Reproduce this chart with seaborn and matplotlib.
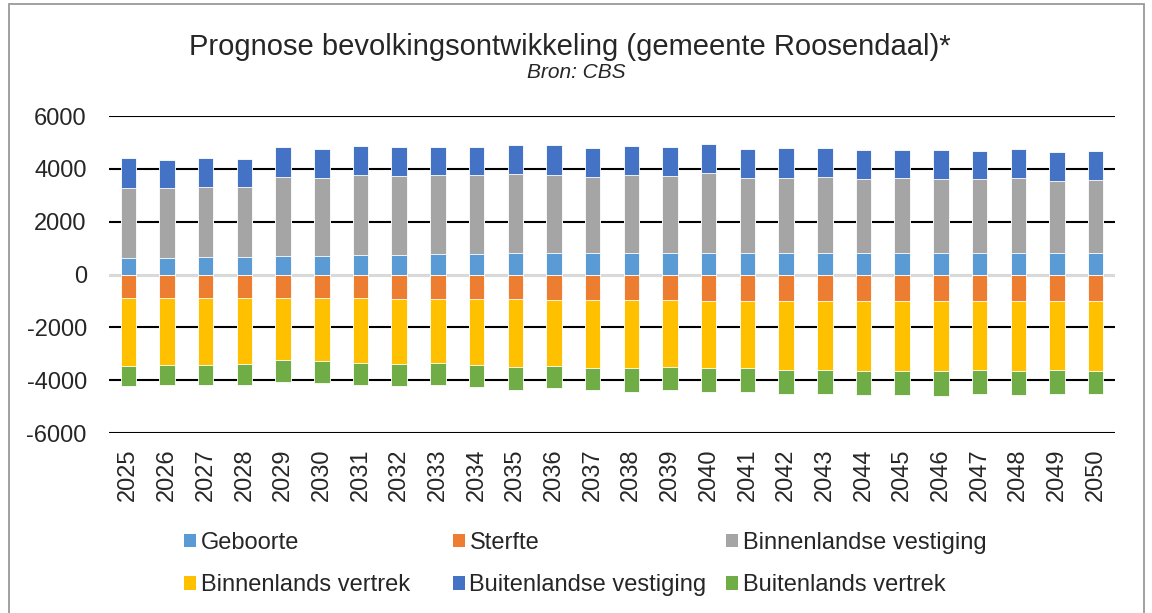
import numpy as np
import matplotlib
matplotlib.use("Agg")
import matplotlib.pyplot as plt
import seaborn as sns
from matplotlib.patches import Rectangle, Patch

# Prognose bevolkingsontwikkeling Roosendaal (CBS)
jaren = [str(j) for j in range(2025, 2051)]

geboorte = [610, 610, 645, 660, 685, 695, 735, 745, 770, 775, 805, 810, 810,
            810, 810, 810, 810, 810, 810, 810, 810, 810, 810, 810, 810, 810]
binnenlandse_vestiging = [2680, 2670, 2685, 2645, 3025, 2965, 3015, 3000, 3000, 2975, 3015, 2975, 2900,
                          2975, 2935, 3050, 2850, 2860, 2885, 2800, 2835, 2825, 2800, 2835, 2745, 2775]
buitenlandse_vestiging = [1115, 1050, 1065, 1075, 1100, 1090, 1100, 1075, 1075, 1075, 1100, 1100, 1075,
                          1090, 1090, 1090, 1090, 1115, 1090, 1090, 1075, 1075, 1075, 1090, 1075, 1075]

sterfte = [-885, -885, -885, -885, -885, -885, -900, -910, -910, -910, -935, -950, -955,
           -975, -960, -985, -985, -985, -985, -985, -985, -985, -985, -985, -985, -1015]
binnenlands_vertrek = [-2585, -2555, -2530, -2520, -2355, -2395, -2455, -2470, -2455, -2505, -2570, -2495, -2565,
                       -2570, -2545, -2570, -2570, -2620, -2620, -2660, -2670, -2685, -2620, -2670, -2620, -2620]
buitenlands_vertrek = [-735, -735, -770, -785, -810, -810, -820, -825, -835, -850, -860, -860, -865,
                       -885, -885, -885, -900, -900, -900, -900, -910, -910, -910, -900, -910, -900]

kleuren = {
    "Geboorte": "#5B9BD5",
    "Sterfte": "#ED7D31",
    "Binnenlandse vestiging": "#A5A5A5",
    "Binnenlands vertrek": "#FFC000",
    "Buitenlandse vestiging": "#4472C4",
    "Buitenlands vertrek": "#70AD47",
}

sns.set_style("white")
plt.rcParams["font.family"] = ["Liberation Sans", "DejaVu Sans"]
plt.rcParams["axes.unicode_minus"] = False

fig = plt.figure(figsize=(11.52, 6.13), dpi=100)
ax = fig.add_axes([0.0946, 0.2936, 0.8733, 0.5171])

# gestapeld: cumulatieve sommen, grootste eerst tekenen
pos = [
    ("Buitenlandse vestiging", np.array(geboorte) + np.array(binnenlandse_vestiging) + np.array(buitenlandse_vestiging)),
    ("Binnenlandse vestiging", np.array(geboorte) + np.array(binnenlandse_vestiging)),
    ("Geboorte", np.array(geboorte)),
]
neg = [
    ("Buitenlands vertrek", np.array(sterfte) + np.array(binnenlands_vertrek) + np.array(buitenlands_vertrek)),
    ("Binnenlands vertrek", np.array(sterfte) + np.array(binnenlands_vertrek)),
    ("Sterfte", np.array(sterfte)),
]
for naam, waarden in pos + neg:
    sns.barplot(x=jaren, y=waarden, color=kleuren[naam], saturation=1, width=0.4,
                edgecolor="white", linewidth=0.6, ax=ax)

ax.set_xlim(-0.5, len(jaren) - 0.5)
ax.set_ylim(-6000, 6000)
ax.set_yticks(range(-6000, 6001, 2000))
ax.set_axisbelow(True)
ax.yaxis.grid(True, color="black", linewidth=1.5)
for lijn, t in zip(ax.get_ygridlines(), ax.get_yticks()):
    if t == 0:
        lijn.set_color("#d9d9d9")
        lijn.set_linewidth(2.2)
for s in ax.spines.values():
    s.set_visible(False)
ax.tick_params(axis="both", length=0, labelsize=17)
ax.tick_params(axis="y", pad=16)
ax.tick_params(axis="x", pad=11)
plt.setp(ax.get_xticklabels(), rotation=90)
ax.set_xlabel("")
ax.set_ylabel("")

fig.text(0.495, 0.924, "Prognose bevolkingsontwikkeling (gemeente Roosendaal)*",
         ha="center", va="center", fontsize=21)
fig.text(0.5, 0.881, "Bron: CBS", ha="center", va="center", fontsize=15, style="italic")

# legenda in drie kolommen zoals in Excel
kolommen = [
    (0.1597, ["Geboorte", "Binnenlands vertrek"]),
    (0.3932, ["Sterfte", "Buitenlandse vestiging"]),
    (0.6302, ["Binnenlandse vestiging", "Buitenlands vertrek"]),
]
for x0, namen in kolommen:
    handles = [Patch(facecolor=kleuren[n], edgecolor="none") for n in namen]
    fig.legend(handles, namen, loc="upper left", bbox_to_anchor=(x0, 0.132),
               frameon=False, fontsize=17, handlelength=0.5, handleheight=0.5,
               handletextpad=0.2, labelspacing=0.85, borderpad=0, borderaxespad=0)

fig.patches.append(Rectangle((0.0078, -0.05), 0.9853, 1.0435, transform=fig.transFigure,
                             fill=False, edgecolor="#9a9a9a", linewidth=1.3))

fig.savefig("out.png", dpi=100)
